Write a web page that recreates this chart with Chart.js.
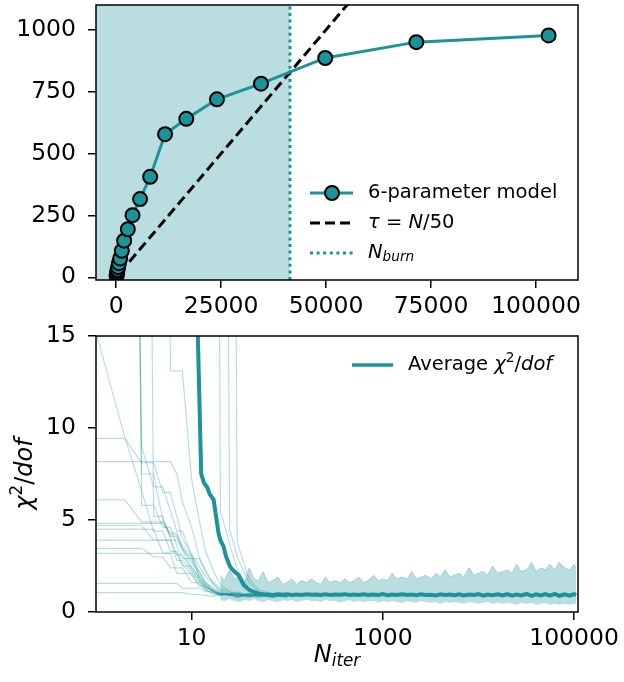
<!DOCTYPE html>
<html>
<head>
<meta charset="utf-8">
<script src="https://cdn.jsdelivr.net/npm/chart.js@4"></script>
<style>
  body { margin: 0; background: #fff; }
  #wrap { position: relative; width: 624px; height: 682px; overflow: hidden; }
  canvas { position: absolute; left: 0; }
</style>
</head>
<body>
<div id="wrap">
  <canvas id="tauChart" width="624" height="324" style="top:-4px"></canvas>
  <canvas id="chiChart" width="624" height="362" style="top:320px"></canvas>
</div>
<script>
// --- top panel: autocorrelation time vs number of iterations ---
const modelN = [105, 150, 220, 320, 460, 660, 950, 1350, 1900, 2780, 3900, 5700, 8100, 11650, 16700, 24000, 34500, 49800, 71500, 103000];
const modelTau = [6, 12, 20, 29, 41, 57, 76, 107, 148, 194, 251, 316, 406, 578, 640, 719, 782, 886, 950, 977];
const tauN = [3150, 110000];
const tauLine = [63, 2200];       // tau = N/50
const nBurn = 41400;
const topXTicks = [0, 25000, 50000, 75000, 100000];
const topYTicks = [0, 250, 500, 750, 1000];

// --- bottom panel: chi2/dof of each walker ---
const walkN = [1, 2, 3, 4, 5, 6, 7, 8, 10, 12, 14, 17, 20, 25, 30, 40, 50, 70, 100];
const walkers = [
  [9.44, 9.44, 8.1, 8.1, 6.5, 6.5, 5.2, 4.0, 3.1, 2.5, 1.9, 1.5, 1.2, 1.0, 1.1, 0.9, 1.0, 0.8, 0.9],
  [8.17, 8.17, 8.17, 8.17, 8.17, 8.17, 7.5, 6.0, 4.6, 3.0, 2.1, 1.6, 1.3, 1.1, 0.9, 1.0, 0.85, 0.95, 0.9],
  [6.09, 6.09, 4.9, 4.9, 4.9, 4.2, 4.2, 3.5, 2.7, 2.2, 1.6, 1.3, 1.1, 0.9, 1.0, 0.85, 0.9, 1.0, 0.8],
  [4.82, 4.82, 4.82, 4.82, 4.82, 4.3, 4.3, 3.6, 3.0, 1.9, 1.5, 1.2, 1.0, 0.9, 1.05, 0.9, 0.8, 0.95, 1.0],
  [4.7, 4.7, 4.7, 3.9, 3.9, 3.9, 2.8, 2.8, 2.2, 1.7, 1.4, 1.1, 0.95, 1.0, 0.85, 1.0, 0.9, 0.8, 0.95],
  [4.5, 4.5, 4.5, 4.5, 3.2, 3.2, 3.2, 2.5, 2.5, 1.8, 1.3, 1.2, 1.0, 0.9, 0.95, 0.85, 1.0, 0.9, 0.8],
  [3.91, 3.91, 3.91, 3.91, 3.91, 3.91, 3.91, 3.4, 2.9, 2.9, 2.3, 1.5, 1.1, 0.95, 1.0, 0.9, 0.85, 1.0, 0.9],
  [3.46, 3.46, 3.46, 3.0, 3.0, 2.4, 2.4, 2.4, 1.6, 1.6, 1.2, 1.0, 0.9, 1.0, 0.8, 0.95, 0.9, 0.85, 1.0],
  [3.19, 3.19, 3.19, 3.19, 3.19, 3.19, 2.1, 2.1, 2.1, 1.4, 1.4, 1.1, 1.0, 0.9, 0.85, 1.0, 0.9, 0.95, 0.8],
  [1.56, 1.56, 1.56, 1.56, 1.56, 1.56, 1.56, 1.3, 1.3, 1.3, 1.1, 1.1, 0.95, 1.0, 0.9, 0.85, 1.0, 0.9, 0.95],
  [1.05, 1.05, 1.05, 1.05, 1.05, 1.05, 1.05, 1.05, 0.95, 0.95, 0.9, 0.85, 1.0, 0.9, 0.8, 0.95, 0.9, 1.0, 0.85],
  [15.2, 9.5, 6.6, 4.4, 4.4, 3.3, 3.3, 2.6, 2.0, 1.5, 1.2, 1.0, 0.9, 1.0, 0.95, 0.85, 0.9, 1.0, 0.9],
  [80, 70, 9.0, 6.8, 6.8, 5.5, 4.4, 4.4, 3.1, 2.2, 1.6, 1.2, 1.0, 0.9, 1.0, 0.9, 0.85, 0.95, 0.9],
  [95, 90, 7.5, 7.5, 5.0, 4.1, 4.1, 3.4, 2.4, 1.9, 1.4, 1.1, 1.0, 0.95, 0.85, 1.0, 0.9, 0.8, 0.95],
  [99, 96, 5.8, 5.8, 4.6, 4.6, 3.6, 2.9, 2.9, 2.0, 1.5, 1.1, 0.95, 1.0, 0.9, 0.8, 1.0, 0.9, 0.85],
  [90, 88, 86, 5.2, 5.2, 4.0, 3.1, 3.1, 2.3, 1.7, 1.3, 1.1, 0.9, 1.0, 0.85, 0.9, 1.0, 0.95, 0.9],
  [99, 98, 97, 96, 95, 13.1, 13.1, 13.1, 7.2, 5.0, 3.3, 2.2, 1.5, 1.1, 1.0, 0.9, 0.95, 0.85, 1.0],
  [99, 99, 98, 98, 97, 97, 96, 96, 95, 94, 93, 90, 5.5, 3.7, 2.3, 1.3, 1.0, 0.9, 0.95],
  [99, 99, 98, 98, 97, 97, 96, 96, 95, 94, 93, 92, 90, 4.5, 3.0, 1.6, 1.1, 0.9, 1.0],
  [99, 99, 98, 98, 97, 97, 96, 96, 95, 94, 93, 92, 90, 88, 3.8, 1.8, 1.2, 1.0, 0.9]
];

// noisy spread of all walkers after convergence
const tailN = [
  20, 22, 25, 28, 32, 36, 40, 45, 50, 56,
  63, 70, 80, 90, 100, 112, 125, 140, 160, 180,
  200, 225, 250, 280, 320, 360, 400, 450, 500, 560,
  630, 700, 800, 900, 1000, 1120, 1250, 1400, 1600, 1800,
  2000, 2250, 2500, 2800, 3200, 3600, 4000, 4500, 5000, 5600,
  6300, 7000, 8000, 9000, 10000, 11200, 12500, 14000, 16000, 18000,
  20000, 22500, 25000, 28000, 32000, 36000, 40000, 45000, 50000, 56000,
  63000, 70000, 80000, 90000, 100000, 105000
];
const bandHigh = [
  2.0, 1.7, 2.3, 1.8, 1.9, 1.6, 2.4, 1.8, 1.7, 2.2,
  1.6, 1.7, 1.9, 1.5, 1.6, 1.8, 1.5, 1.7, 1.6, 1.8,
  1.6, 1.5, 1.9, 1.6, 1.7, 1.6, 1.8, 1.6, 1.7, 1.9,
  1.6, 1.7, 2.0, 1.7, 1.8, 1.7, 2.1, 1.8, 1.9, 1.8,
  2.2, 1.8, 1.9, 2.0, 1.8, 2.1, 1.9, 2.3, 1.9, 2.0,
  2.1, 1.9, 2.4, 2.0, 2.1, 2.2, 2.0, 2.5, 2.1, 2.2,
  2.3, 2.1, 2.6, 2.2, 2.3, 2.7, 2.2, 2.4, 2.3, 2.6,
  2.3, 2.7, 2.4, 2.3, 2.6, 2.4
];
const bandLow = [
  0.65, 0.6, 0.7, 0.6, 0.55, 0.65, 0.6, 0.7, 0.6, 0.55,
  0.65, 0.6, 0.55, 0.65, 0.6, 0.65, 0.55, 0.6, 0.65, 0.6,
  0.6, 0.55, 0.65, 0.6, 0.6, 0.5, 0.6, 0.65, 0.55, 0.6,
  0.55, 0.6, 0.6, 0.5, 0.6, 0.55, 0.6, 0.55, 0.5, 0.6,
  0.55, 0.5, 0.6, 0.55, 0.5, 0.55, 0.45, 0.55, 0.5, 0.55,
  0.5, 0.45, 0.55, 0.5, 0.45, 0.5, 0.55, 0.45, 0.5, 0.45,
  0.5, 0.45, 0.4, 0.5, 0.45, 0.5, 0.4, 0.45, 0.5, 0.4,
  0.45, 0.4, 0.45, 0.4, 0.45, 0.4
];

// average chi2/dof
const avgN = [11, 11.5, 12.6, 13.5, 14.5, 15.5, 17, 18, 19.1, 20, 21.6, 23, 25.3, 28, 31, 35, 40, 44, 50, 56,
  63, 70, 80, 90, 100, 112, 125, 140, 160, 180,
  200, 225, 250, 280, 320, 360, 400, 450, 500, 560,
  630, 700, 800, 900, 1000, 1120, 1250, 1400, 1600, 1800,
  2000, 2250, 2500, 2800, 3200, 3600, 4000, 4500, 5000, 5600,
  6300, 7000, 8000, 9000, 10000, 11200, 12500, 14000, 16000, 18000,
  20000, 22500, 25000, 28000, 32000, 36000, 40000, 45000, 50000, 56000,
  63000, 70000, 80000, 90000, 100000, 105000];
const avgChi = [60, 16, 7.5, 7.0, 6.8, 6.4, 6.1, 5.2, 4.3, 3.9, 3.55, 3.0, 2.46, 2.2, 2.0, 1.47, 1.2, 1.1, 1.0, 0.97,
  0.95, 0.93, 0.96, 0.94, 0.97, 0.93, 0.95, 0.92, 0.96, 0.94,
  0.95, 0.92, 0.96, 0.93, 0.95, 0.94, 0.97, 0.92, 0.95, 0.93,
  0.96, 0.92, 0.95, 0.93, 0.97, 0.91, 0.95, 0.93, 0.96, 0.92,
  0.95, 0.91, 0.96, 0.93, 0.94, 0.90, 0.96, 0.92, 0.95, 0.91,
  0.96, 0.90, 0.95, 0.92, 0.97, 0.89, 0.95, 0.91, 0.96, 0.90,
  0.97, 0.89, 0.95, 0.90, 0.98, 0.88, 0.96, 0.90, 0.97, 0.89,
  0.98, 0.88, 0.96, 0.89, 0.97, 0.92];
const botXTicks = [10, 1000, 100000];
const botYTicks = [0, 5, 10, 15];

const teal = '#1b9399';
const tealLight = 'rgba(27,147,153,0.3)';
const FONT = '"DejaVu Sans", sans-serif';
const pts = (xs, ys) => xs.map((x, i) => ({ x: x, y: ys[i] }));

// draws mathtext-like pieces: italic / sub / superscript
function drawRich(ctx, x, y, parts, size, measureOnly) {
  let cx = x;
  parts.forEach(p => {
    const s = size * (p.scale || 1);
    ctx.font = (p.italic ? 'italic ' : '') + s + 'px ' + FONT;
    if (!measureOnly) ctx.fillText(p.t, cx, y + (p.dy || 0) * size);
    cx += ctx.measureText(p.t).width;
  });
  return cx - x;
}

const framePlugin = {
  id: 'frame',
  afterDraw(chart) {
    const a = chart.chartArea, ctx = chart.ctx;
    ctx.save();
    ctx.strokeStyle = '#000';
    ctx.lineWidth = 1.5;
    ctx.strokeRect(a.left, a.top, a.right - a.left, a.bottom - a.top);
    ctx.restore();
  }
};

function fixedTicks(list) {
  return scale => { scale.ticks = list.map(v => ({ value: v })); };
}
// fixed axis box, no extra padding for overflowing labels
function fitBox(prop, size) {
  return s => {
    s[prop] = size;
    s.paddingTop = 0; s.paddingBottom = 0; s.paddingLeft = 0; s.paddingRight = 0;
  };
}
const tickFont = { family: FONT, size: 23.5 };
const gridOpts = { drawOnChartArea: false, drawTicks: true, tickLength: 8, color: '#000', lineWidth: 1.5 };

// ---------- top chart (canvas starts 4px above the page) ----------
const shadePlugin = {
  id: 'shade',
  beforeDatasetsDraw(chart) {
    const a = chart.chartArea, ctx = chart.ctx;
    const xb = chart.scales.x.getPixelForValue(nBurn);
    ctx.save();
    ctx.fillStyle = tealLight;
    ctx.fillRect(a.left, a.top, xb - a.left, a.bottom - a.top);
    ctx.restore();
  }
};
const topLegend = {
  id: 'topLegend',
  afterDraw(chart) {
    const ctx = chart.ctx;
    ctx.save();
    ctx.translate(0, 4);
    ctx.textBaseline = 'middle';
    ctx.fillStyle = '#000';
    // model
    ctx.strokeStyle = teal; ctx.lineWidth = 3; ctx.setLineDash([]);
    ctx.beginPath(); ctx.moveTo(310, 193); ctx.lineTo(353, 193); ctx.stroke();
    ctx.beginPath(); ctx.arc(332, 193, 7, 0, Math.PI * 2);
    ctx.fillStyle = teal; ctx.fill(); ctx.lineWidth = 2; ctx.strokeStyle = '#000'; ctx.stroke();
    ctx.fillStyle = '#000';
    drawRich(ctx, 368, 193, [{ t: '6-parameter model' }], 19.5);
    // tau
    ctx.strokeStyle = '#000'; ctx.lineWidth = 3; ctx.setLineDash([10, 5]);
    ctx.beginPath(); ctx.moveTo(310, 223); ctx.lineTo(353, 223); ctx.stroke();
    drawRich(ctx, 368, 223, [{ t: 'τ', italic: true }, { t: ' = ' }, { t: 'N', italic: true }, { t: '/50' }], 19.5);
    // burn
    ctx.strokeStyle = teal; ctx.setLineDash([3, 3.6]);
    ctx.beginPath(); ctx.moveTo(310, 253); ctx.lineTo(353, 253); ctx.stroke();
    drawRich(ctx, 368, 253, [{ t: 'N', italic: true }, { t: 'burn', italic: true, scale: 0.7, dy: 0.25 }], 19.5);
    ctx.restore();
  }
};

new Chart(document.getElementById('tauChart'), {
  type: 'line',
  data: {
    datasets: [
      { label: '6-parameter model', data: pts(modelN, modelTau), borderColor: teal, backgroundColor: teal,
        borderWidth: 3, pointRadius: 7, pointBorderWidth: 2, pointBorderColor: '#000', pointBackgroundColor: teal, order: 0 },
      { label: 'tau = N/50', data: pts(tauN, tauLine), borderColor: '#000', borderWidth: 3, borderDash: [10, 5],
        pointRadius: 0, clip: 0, order: 1 },
      { label: 'N_burn', data: pts([nBurn, nBurn], [-11, 1100]), borderColor: teal, borderWidth: 3, borderDash: [3, 3.6],
        pointRadius: 0, clip: 0, order: 2 }
    ]
  },
  options: {
    responsive: false, animation: false, devicePixelRatio: 1,
    layout: { padding: { top: 0, right: 46, left: 0, bottom: 0 } },
    plugins: { legend: { display: false }, tooltip: { enabled: false } },
    scales: {
      x: {
        type: 'linear', min: -4800, max: 110000,
        afterBuildTicks: fixedTicks(topXTicks),
        afterFit: fitBox('height', 40),
        ticks: { font: tickFont, color: '#000', padding: 5, autoSkip: false, maxRotation: 0, callback: v => String(v) },
        grid: gridOpts, border: { display: false }
      },
      y: {
        type: 'linear', min: -11, max: 1100,
        afterBuildTicks: fixedTicks(topYTicks),
        afterFit: fitBox('width', 96),
        ticks: { font: tickFont, color: '#000', padding: 12, autoSkip: false, callback: v => String(v) },
        grid: gridOpts, border: { display: false }
      }
    }
  },
  plugins: [shadePlugin, framePlugin, topLegend]
});

// ---------- bottom chart ----------
const botDecor = {
  id: 'botDecor',
  afterDraw(chart) {
    const ctx = chart.ctx, a = chart.chartArea;
    ctx.save();
    ctx.fillStyle = '#000';
    ctx.textBaseline = 'middle';
    // legend
    ctx.strokeStyle = teal; ctx.lineWidth = 3.5;
    ctx.beginPath(); ctx.moveTo(352, 45); ctx.lineTo(393, 45); ctx.stroke();
    drawRich(ctx, 408, 45, [{ t: 'Average ' }, { t: 'χ', italic: true }, { t: '2', scale: 0.7, dy: -0.35 }, { t: '/' }, { t: 'dof', italic: true }], 19.5);
    // x title
    const xParts = [{ t: 'N', italic: true }, { t: 'iter', italic: true, scale: 0.7, dy: 0.25 }];
    const wx = drawRich(ctx, 0, 0, xParts, 24, true);
    drawRich(ctx, (a.left + a.right) / 2 - wx / 2, 336, xParts, 24);
    // y title
    const yParts = [{ t: 'χ', italic: true }, { t: '2', scale: 0.7, dy: -0.35 }, { t: '/' }, { t: 'dof', italic: true }];
    const wy = drawRich(ctx, 0, 0, yParts, 24, true);
    ctx.translate(26, (a.top + a.bottom) / 2);
    ctx.rotate(-Math.PI / 2);
    drawRich(ctx, -wy / 2, 0, yParts, 24);
    ctx.restore();
  }
};

const botSets = walkers.map((w, i) => ({
  label: 'walker ' + i, data: pts(walkN, w), borderColor: tealLight, borderWidth: 1.2,
  pointRadius: 0, clip: 0, order: 5
}));
botSets.push({ label: 'low', data: pts(tailN, bandLow), borderColor: 'rgba(0,0,0,0)', borderWidth: 0,
  pointRadius: 0, fill: false, clip: 0, order: 4 });
botSets.push({ label: 'high', data: pts(tailN, bandHigh), borderColor: tealLight, borderWidth: 1,
  backgroundColor: tealLight, pointRadius: 0, fill: '-1', clip: 0, order: 3 });
botSets.push({ label: 'Average chi2/dof', data: pts(avgN, avgChi), borderColor: teal, borderWidth: 4,
  pointRadius: 0, clip: 0, order: 0 });

new Chart(document.getElementById('chiChart'), {
  type: 'line',
  data: { datasets: botSets },
  options: {
    responsive: false, animation: false, devicePixelRatio: 1,
    layout: { padding: { top: 16, right: 46, left: 0, bottom: 0 } },
    plugins: { legend: { display: false }, tooltip: { enabled: false } },
    scales: {
      x: {
        type: 'logarithmic', min: 1, max: 110000,
        afterBuildTicks: fixedTicks(botXTicks),
        afterFit: fitBox('height', 70),
        ticks: { font: tickFont, color: '#000', padding: 5, autoSkip: false, maxRotation: 0, callback: v => String(v) },
        grid: gridOpts, border: { display: false }
      },
      y: {
        type: 'linear', min: 0, max: 15,
        afterBuildTicks: fixedTicks(botYTicks),
        afterFit: fitBox('width', 96),
        ticks: { font: tickFont, color: '#000', padding: 12, autoSkip: false, callback: v => String(v) },
        grid: gridOpts, border: { display: false }
      }
    }
  },
  plugins: [framePlugin, botDecor]
});
</script>
</body>
</html>
